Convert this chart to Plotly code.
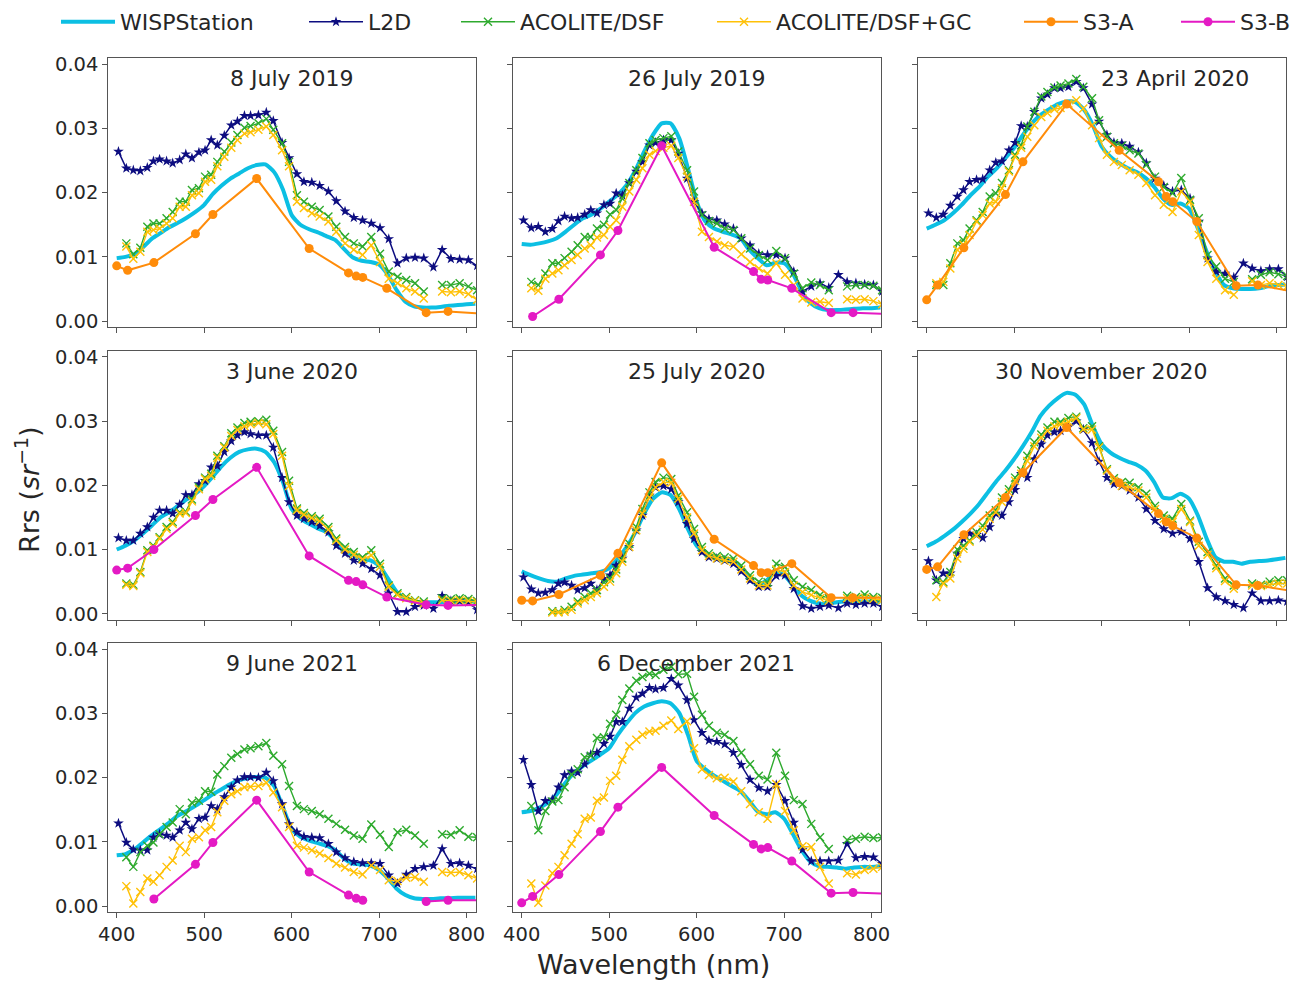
import plotly.graph_objects as go

# ---------------- data ----------------
WL = [402, 411, 419, 427, 435, 442, 449, 457, 464, 472, 479, 486, 494, 501, 508, 515,
      523, 531, 538, 546, 553, 562, 571, 579, 589, 597, 606, 614, 623, 632, 642, 651,
      661, 671, 681, 691, 701, 711, 721, 731, 741, 751, 762, 772, 782, 792, 802, 812]
WISP_WL = list(range(400, 811, 10))
S3_WL = [400, 412.5, 442.5, 490, 510, 560, 620, 665, 673.75, 681.25, 708.75, 753.75, 778.75, 865]

TITLES = ["8 July 2019", "26 July 2019", "23 April 2020", "3 June 2020", "25 July 2020",
          "30 November 2020", "9 June 2021", "6 December 2021"]
SERIES_NAMES = ["WISPStation", "L2D", "ACOLITE/DSF", "ACOLITE/DSF+GC", "S3-A", "S3-B"]
S3_SENSOR = ["S3-A", "S3-B", "S3-A", "S3-B", "S3-A", "S3-A", "S3-B", "S3-B"]
X_TICKS = [400, 500, 600, 700, 800]
Y_TICKS = [0.00, 0.01, 0.02, 0.03, 0.04]

# 8 July 2019
P1_WISP = [0.0098, 0.0100, 0.0104, 0.0115, 0.0128, 0.0137, 0.0146, 0.0153, 0.0161, 0.0170, 0.0181, 0.0198, 0.0211, 0.0222, 0.0230, 0.0238, 0.0243, 0.0244, 0.0232, 0.0205, 0.0165, 0.0150, 0.0143, 0.0138, 0.0132, 0.0126, 0.0112, 0.0099, 0.0094, 0.0092, 0.0088, 0.0072, 0.0048, 0.0030, 0.0023, 0.0021, 0.0021, 0.0022, 0.0024, 0.0025, 0.0026, 0.0027]
P1_L2D = [0.0264, 0.0238, 0.0235, 0.0234, 0.0239, 0.0249, 0.0252, 0.0249, 0.0246, 0.0251, 0.0260, 0.0254, 0.0263, 0.0266, 0.0282, 0.0274, 0.0289, 0.0305, 0.0311, 0.0320, 0.0320, 0.0321, 0.0325, 0.0312, 0.0278, 0.0254, 0.0229, 0.0217, 0.0216, 0.0211, 0.0202, 0.0187, 0.0171, 0.0161, 0.0157, 0.0152, 0.0145, 0.0128, 0.0090, 0.0098, 0.0099, 0.0098, 0.0084, 0.0111, 0.0097, 0.0096, 0.0095, 0.0086]
P1_DSF = [None, 0.0121, 0.0104, 0.0114, 0.0147, 0.0152, 0.0152, 0.0160, 0.0170, 0.0186, 0.0186, 0.0204, 0.0207, 0.0225, 0.0228, 0.0248, 0.0264, 0.0278, 0.0290, 0.0301, 0.0304, 0.0308, 0.0315, 0.0298, 0.0277, 0.0248, 0.0196, 0.0186, 0.0178, 0.0173, 0.0163, 0.0147, 0.0131, 0.0121, 0.0116, 0.0131, 0.0105, 0.0077, 0.0069, 0.0064, 0.0059, 0.0046, None, 0.0056, 0.0056, 0.0059, 0.0054, 0.0048]
P1_GC = [None, 0.0116, 0.0097, 0.0108, 0.0139, 0.0142, 0.0144, 0.0152, 0.0160, 0.0178, 0.0178, 0.0196, 0.0199, 0.0217, 0.0220, 0.0241, 0.0256, 0.0270, 0.0282, 0.0292, 0.0294, 0.0298, 0.0303, 0.0290, 0.0266, 0.0241, 0.0186, 0.0176, 0.0168, 0.0163, 0.0155, 0.0139, 0.0121, 0.0111, 0.0103, 0.0118, 0.0092, 0.0066, 0.0059, 0.0051, 0.0046, 0.0035, None, 0.0046, 0.0045, 0.0046, 0.0042, 0.0033]
P1_S3 = [0.0086, 0.0079, 0.0091, 0.0136, 0.0166, 0.0222, 0.0113, 0.0075, 0.0070, 0.0068, 0.0051, 0.0013, 0.0015, 0.0007]

# 26 July 2019
P2_WISP = [0.0120, 0.0119, 0.0121, 0.0124, 0.0129, 0.0139, 0.0150, 0.0160, 0.0166, 0.0175, 0.0186, 0.0197, 0.0212, 0.0235, 0.0264, 0.0290, 0.0308, 0.0308, 0.0285, 0.0238, 0.0186, 0.0155, 0.0144, 0.0139, 0.0135, 0.0129, 0.0111, 0.0098, 0.0087, 0.0091, 0.0090, 0.0074, 0.0046, 0.0028, 0.0020, 0.0017, 0.0017, 0.0018, 0.0019, 0.0020, 0.0020, 0.0021]
P2_L2D = [0.0157, 0.0145, 0.0147, 0.0139, 0.0144, 0.0156, 0.0163, 0.0160, 0.0161, 0.0166, 0.0173, 0.0168, 0.0181, 0.0183, 0.0199, 0.0196, 0.0215, 0.0233, 0.0248, 0.0274, 0.0278, 0.0282, 0.0282, 0.0261, 0.0222, 0.0186, 0.0168, 0.0159, 0.0157, 0.0151, 0.0144, 0.0129, 0.0118, 0.0105, 0.0103, 0.0103, 0.0098, 0.0077, 0.0046, 0.0054, 0.0059, 0.0052, 0.0072, 0.0061, 0.0059, 0.0057, 0.0056, 0.0046]
P2_DSF = [None, 0.0061, 0.0056, 0.0074, 0.0090, 0.0090, 0.0098, 0.0108, 0.0118, 0.0131, 0.0131, 0.0144, 0.0150, 0.0166, 0.0173, 0.0191, 0.0215, 0.0235, 0.0254, 0.0277, 0.0282, 0.0285, 0.0288, 0.0264, 0.0235, 0.0202, 0.0165, 0.0156, 0.0152, 0.0144, 0.0142, 0.0129, 0.0113, 0.0103, 0.0095, 0.0109, 0.0098, 0.0074, 0.0051, 0.0060, 0.0056, 0.0048, None, 0.0054, 0.0056, 0.0056, 0.0055, 0.0048]
P2_GC = [None, 0.0051, 0.0047, 0.0066, 0.0074, 0.0079, 0.0087, 0.0095, 0.0103, 0.0113, 0.0118, 0.0130, 0.0134, 0.0147, 0.0157, 0.0178, 0.0202, 0.0220, 0.0238, 0.0259, 0.0265, 0.0270, 0.0273, 0.0254, 0.0225, 0.0186, 0.0139, 0.0131, 0.0124, 0.0118, 0.0116, 0.0104, 0.0092, 0.0082, 0.0074, 0.0090, 0.0072, 0.0056, 0.0035, 0.0029, 0.0030, 0.0028, None, 0.0034, 0.0033, 0.0034, 0.0031, 0.0026]
P2_S3 = [None, 0.0007, 0.0034, 0.0103, 0.0141, 0.0273, 0.0115, 0.0077, 0.0065, 0.0064, 0.0051, 0.0013, 0.0013, 0.0009]

# 23 April 2020
P3_WISP = [0.0144, 0.0150, 0.0157, 0.0168, 0.0181, 0.0196, 0.0209, 0.0225, 0.0238, 0.0254, 0.0270, 0.0290, 0.0308, 0.0321, 0.0330, 0.0338, 0.0342, 0.0341, 0.0329, 0.0305, 0.0272, 0.0256, 0.0246, 0.0238, 0.0232, 0.0223, 0.0209, 0.0191, 0.0181, 0.0183, 0.0175, 0.0144, 0.0108, 0.0077, 0.0056, 0.0051, 0.0050, 0.0050, 0.0051, 0.0054, 0.0056, 0.0057]
P3_L2D = [0.0168, 0.0161, 0.0166, 0.0180, 0.0194, 0.0204, 0.0217, 0.0220, 0.0221, 0.0235, 0.0247, 0.0249, 0.0266, 0.0278, 0.0304, 0.0303, 0.0326, 0.0347, 0.0353, 0.0363, 0.0363, 0.0365, 0.0373, 0.0363, 0.0338, 0.0311, 0.0290, 0.0278, 0.0277, 0.0272, 0.0263, 0.0246, 0.0222, 0.0211, 0.0202, 0.0204, 0.0191, 0.0155, 0.0098, 0.0077, 0.0074, 0.0068, 0.0090, 0.0082, 0.0078, 0.0081, 0.0081, 0.0069]
P3_DSF = [None, 0.0056, 0.0056, 0.0090, 0.0121, 0.0126, 0.0144, 0.0157, 0.0170, 0.0194, 0.0199, 0.0215, 0.0235, 0.0259, 0.0274, 0.0303, 0.0326, 0.0350, 0.0357, 0.0364, 0.0367, 0.0370, 0.0377, 0.0365, 0.0347, 0.0313, 0.0287, 0.0277, 0.0273, 0.0266, 0.0261, 0.0243, 0.0225, 0.0209, 0.0199, 0.0223, 0.0189, 0.0160, 0.0103, 0.0085, 0.0066, 0.0061, None, 0.0065, 0.0072, 0.0076, 0.0073, 0.0070]
P3_GC = [None, 0.0059, 0.0061, 0.0082, 0.0111, 0.0119, 0.0134, 0.0155, 0.0165, 0.0183, 0.0186, 0.0207, 0.0233, 0.0256, 0.0270, 0.0287, 0.0305, 0.0318, 0.0324, 0.0330, 0.0332, 0.0339, 0.0344, 0.0331, 0.0305, 0.0285, 0.0259, 0.0248, 0.0243, 0.0235, 0.0228, 0.0215, 0.0196, 0.0181, 0.0170, 0.0202, 0.0186, 0.0134, 0.0092, 0.0066, 0.0048, 0.0041, None, 0.0062, 0.0056, 0.0059, 0.0056, 0.0054]
P3_S3 = [0.0033, 0.0056, 0.0114, 0.0197, 0.0248, 0.0338, 0.0266, 0.0217, 0.0194, 0.0186, 0.0155, 0.0055, 0.0056, 0.0034]

# 3 June 2020
P4_WISP = [0.0100, 0.0106, 0.0114, 0.0125, 0.0137, 0.0150, 0.0158, 0.0168, 0.0178, 0.0187, 0.0199, 0.0214, 0.0230, 0.0243, 0.0252, 0.0256, 0.0257, 0.0252, 0.0236, 0.0205, 0.0163, 0.0148, 0.0140, 0.0133, 0.0127, 0.0114, 0.0100, 0.0091, 0.0086, 0.0083, 0.0075, 0.0055, 0.0034, 0.0024, 0.0019, 0.0018, 0.0018, 0.0018, 0.0018, 0.0018, 0.0019, 0.0019]
P4_L2D = [0.0118, 0.0114, 0.0114, 0.0125, 0.0135, 0.0150, 0.0161, 0.0161, 0.0156, 0.0170, 0.0185, 0.0185, 0.0202, 0.0207, 0.0228, 0.0230, 0.0252, 0.0269, 0.0278, 0.0283, 0.0280, 0.0278, 0.0278, 0.0259, 0.0212, 0.0174, 0.0153, 0.0148, 0.0143, 0.0137, 0.0127, 0.0106, 0.0094, 0.0083, 0.0078, 0.0070, 0.0060, 0.0032, 0.0003, 0.0003, 0.0011, 0.0013, 0.0008, 0.0028, 0.0020, 0.0020, 0.0018, 0.0006]
P4_DSF = [None, 0.0047, 0.0045, 0.0065, 0.0099, 0.0106, 0.0119, 0.0135, 0.0143, 0.0158, 0.0159, 0.0178, 0.0197, 0.0212, 0.0218, 0.0246, 0.0261, 0.0281, 0.0290, 0.0297, 0.0299, 0.0300, 0.0302, 0.0285, 0.0252, 0.0207, 0.0164, 0.0157, 0.0152, 0.0148, 0.0135, 0.0117, 0.0104, 0.0096, 0.0088, 0.0099, 0.0078, 0.0044, 0.0032, 0.0026, 0.0021, 0.0019, None, 0.0024, 0.0023, 0.0024, 0.0023, 0.0020]
P4_GC = [None, 0.0045, 0.0043, 0.0063, 0.0096, 0.0104, 0.0117, 0.0132, 0.0140, 0.0156, 0.0157, 0.0175, 0.0194, 0.0210, 0.0215, 0.0243, 0.0259, 0.0277, 0.0286, 0.0292, 0.0295, 0.0297, 0.0295, 0.0280, 0.0246, 0.0199, 0.0161, 0.0154, 0.0149, 0.0144, 0.0131, 0.0114, 0.0100, 0.0092, 0.0085, 0.0091, 0.0073, 0.0042, 0.0029, 0.0024, 0.0020, 0.0016, None, 0.0021, 0.0020, 0.0021, 0.0020, 0.0018]
P4_S3 = [0.0068, 0.0071, 0.0100, 0.0153, 0.0178, 0.0228, 0.0090, 0.0052, 0.0050, 0.0045, 0.0026, 0.0014, 0.0013, 0.0015]

# 25 July 2020
P5_WISP = [0.0066, 0.0060, 0.0055, 0.0051, 0.0050, 0.0055, 0.0059, 0.0061, 0.0063, 0.0065, 0.0071, 0.0086, 0.0104, 0.0127, 0.0156, 0.0179, 0.0189, 0.0185, 0.0163, 0.0132, 0.0106, 0.0094, 0.0087, 0.0083, 0.0081, 0.0071, 0.0055, 0.0045, 0.0052, 0.0065, 0.0060, 0.0044, 0.0028, 0.0020, 0.0016, 0.0016, 0.0018, 0.0019, 0.0019, 0.0019, 0.0019, 0.0018]
P5_L2D = [0.0057, 0.0038, 0.0032, 0.0033, 0.0037, 0.0047, 0.0049, 0.0044, 0.0037, 0.0040, 0.0047, 0.0037, 0.0054, 0.0060, 0.0075, 0.0086, 0.0104, 0.0130, 0.0153, 0.0184, 0.0197, 0.0199, 0.0194, 0.0174, 0.0140, 0.0117, 0.0096, 0.0088, 0.0086, 0.0083, 0.0078, 0.0066, 0.0052, 0.0042, 0.0042, 0.0059, 0.0060, 0.0039, 0.0012, 0.0008, 0.0011, 0.0013, 0.0009, 0.0016, 0.0014, 0.0016, 0.0016, 0.0011]
P5_DSF = [None, None, None, None, 0.0004, 0.0003, 0.0006, 0.0011, 0.0019, 0.0026, 0.0032, 0.0037, 0.0049, 0.0055, 0.0069, 0.0086, 0.0109, 0.0135, 0.0163, 0.0189, 0.0205, 0.0212, 0.0210, 0.0184, 0.0158, 0.0132, 0.0104, 0.0094, 0.0090, 0.0088, 0.0086, 0.0075, 0.0060, 0.0050, 0.0049, 0.0078, 0.0073, 0.0052, 0.0042, 0.0037, 0.0029, 0.0024, None, 0.0028, 0.0026, 0.0030, 0.0026, 0.0025]
P5_GC = [None, None, None, None, 0.0002, 0.0002, 0.0003, 0.0006, 0.0016, 0.0021, 0.0026, 0.0032, 0.0042, 0.0050, 0.0063, 0.0081, 0.0104, 0.0130, 0.0156, 0.0181, 0.0197, 0.0205, 0.0204, 0.0179, 0.0150, 0.0125, 0.0099, 0.0090, 0.0086, 0.0083, 0.0081, 0.0069, 0.0055, 0.0044, 0.0044, 0.0069, 0.0065, 0.0044, 0.0034, 0.0029, 0.0024, 0.0020, None, 0.0024, 0.0023, 0.0025, 0.0023, 0.0021]
P5_S3 = [0.0021, 0.0020, 0.0030, 0.0060, 0.0094, 0.0235, 0.0116, 0.0075, 0.0064, 0.0064, 0.0078, 0.0025, 0.0025, 0.0025]

# 30 November 2020
P6_WISP = [0.0105, 0.0112, 0.0121, 0.0131, 0.0143, 0.0156, 0.0171, 0.0189, 0.0207, 0.0223, 0.0241, 0.0261, 0.0283, 0.0308, 0.0324, 0.0336, 0.0344, 0.0341, 0.0326, 0.0292, 0.0264, 0.0251, 0.0243, 0.0237, 0.0232, 0.0223, 0.0205, 0.0181, 0.0180, 0.0187, 0.0179, 0.0153, 0.0117, 0.0088, 0.0081, 0.0081, 0.0078, 0.0081, 0.0082, 0.0083, 0.0085, 0.0087]
P6_L2D = [0.0082, 0.0052, 0.0063, 0.0063, 0.0094, 0.0117, 0.0125, 0.0123, 0.0118, 0.0135, 0.0156, 0.0153, 0.0174, 0.0193, 0.0218, 0.0212, 0.0241, 0.0264, 0.0278, 0.0283, 0.0285, 0.0291, 0.0300, 0.0287, 0.0266, 0.0237, 0.0212, 0.0202, 0.0199, 0.0192, 0.0181, 0.0163, 0.0145, 0.0132, 0.0125, 0.0128, 0.0117, 0.0081, 0.0040, 0.0026, 0.0020, 0.0014, 0.0009, 0.0032, 0.0020, 0.0020, 0.0021, 0.0019]
P6_DSF = [None, 0.0052, 0.0049, 0.0065, 0.0100, 0.0106, 0.0114, 0.0127, 0.0137, 0.0153, 0.0161, 0.0181, 0.0194, 0.0212, 0.0223, 0.0246, 0.0267, 0.0279, 0.0290, 0.0299, 0.0299, 0.0305, 0.0307, 0.0289, 0.0292, 0.0261, 0.0225, 0.0211, 0.0205, 0.0204, 0.0197, 0.0187, 0.0168, 0.0153, 0.0148, 0.0171, 0.0145, 0.0112, 0.0096, 0.0075, 0.0055, 0.0044, None, 0.0047, 0.0045, 0.0050, 0.0052, 0.0052]
P6_GC = [None, 0.0026, 0.0047, 0.0055, 0.0086, 0.0101, 0.0112, 0.0122, 0.0131, 0.0148, 0.0158, 0.0174, 0.0189, 0.0207, 0.0218, 0.0238, 0.0261, 0.0274, 0.0285, 0.0292, 0.0295, 0.0299, 0.0305, 0.0287, 0.0287, 0.0259, 0.0223, 0.0207, 0.0199, 0.0197, 0.0192, 0.0181, 0.0163, 0.0148, 0.0143, 0.0163, 0.0143, 0.0106, 0.0092, 0.0071, 0.0051, 0.0039, None, 0.0044, 0.0043, 0.0045, 0.0047, 0.0047]
P6_S3 = [0.0069, 0.0073, 0.0123, 0.0181, 0.0220, 0.0290, 0.0204, 0.0156, 0.0143, 0.0137, 0.0118, 0.0045, 0.0044, 0.0025]

# 9 June 2021
P7_WISP = [0.0079, 0.0081, 0.0088, 0.0099, 0.0110, 0.0120, 0.0130, 0.0141, 0.0148, 0.0156, 0.0165, 0.0174, 0.0182, 0.0190, 0.0196, 0.0200, 0.0201, 0.0200, 0.0187, 0.0154, 0.0120, 0.0108, 0.0102, 0.0098, 0.0094, 0.0087, 0.0074, 0.0066, 0.0065, 0.0063, 0.0056, 0.0043, 0.0027, 0.0017, 0.0012, 0.0011, 0.0011, 0.0012, 0.0012, 0.0013, 0.0013, 0.0013]
P7_L2D = [0.0129, 0.0099, 0.0088, 0.0087, 0.0087, 0.0107, 0.0112, 0.0110, 0.0107, 0.0118, 0.0130, 0.0120, 0.0136, 0.0138, 0.0156, 0.0151, 0.0170, 0.0185, 0.0196, 0.0201, 0.0201, 0.0200, 0.0208, 0.0195, 0.0159, 0.0128, 0.0115, 0.0108, 0.0107, 0.0106, 0.0097, 0.0084, 0.0075, 0.0069, 0.0067, 0.0067, 0.0066, 0.0048, 0.0035, 0.0049, 0.0058, 0.0061, 0.0063, 0.0089, 0.0066, 0.0067, 0.0063, 0.0058]
P7_DSF = [None, 0.0076, 0.0061, 0.0084, 0.0094, 0.0099, 0.0112, 0.0123, 0.0130, 0.0151, 0.0143, 0.0161, 0.0164, 0.0179, 0.0178, 0.0205, 0.0218, 0.0231, 0.0237, 0.0244, 0.0246, 0.0249, 0.0254, 0.0234, 0.0221, 0.0187, 0.0156, 0.0151, 0.0148, 0.0143, 0.0136, 0.0128, 0.0119, 0.0110, 0.0105, 0.0127, 0.0111, 0.0092, 0.0115, 0.0119, 0.0110, 0.0097, None, 0.0112, 0.0111, 0.0118, 0.0108, 0.0107]
P7_GC = [None, 0.0031, 0.0004, 0.0022, 0.0043, 0.0038, 0.0048, 0.0061, 0.0071, 0.0094, 0.0084, 0.0105, 0.0107, 0.0118, 0.0123, 0.0146, 0.0164, 0.0174, 0.0179, 0.0185, 0.0186, 0.0187, 0.0192, 0.0177, 0.0154, 0.0123, 0.0094, 0.0091, 0.0087, 0.0082, 0.0075, 0.0066, 0.0060, 0.0053, 0.0049, 0.0063, 0.0056, 0.0040, 0.0039, 0.0044, 0.0045, 0.0038, None, 0.0053, 0.0052, 0.0053, 0.0048, 0.0043]
P7_S3 = [None, None, 0.0011, 0.0065, 0.0099, 0.0165, 0.0053, 0.0017, 0.0012, 0.0009, None, 0.0007, 0.0009, 0.0009]

# 6 December 2021
P8_WISP = [0.0146, 0.0148, 0.0153, 0.0161, 0.0174, 0.0192, 0.0208, 0.0218, 0.0227, 0.0236, 0.0246, 0.0267, 0.0285, 0.0301, 0.0311, 0.0316, 0.0319, 0.0316, 0.0301, 0.0267, 0.0226, 0.0213, 0.0203, 0.0195, 0.0187, 0.0179, 0.0164, 0.0147, 0.0143, 0.0146, 0.0136, 0.0112, 0.0087, 0.0069, 0.0062, 0.0061, 0.0060, 0.0058, 0.0060, 0.0061, 0.0061, 0.0062]
P8_L2D = [0.0228, 0.0189, 0.0148, 0.0164, 0.0166, 0.0185, 0.0204, 0.0210, 0.0208, 0.0221, 0.0236, 0.0239, 0.0253, 0.0264, 0.0287, 0.0287, 0.0308, 0.0325, 0.0331, 0.0340, 0.0338, 0.0340, 0.0354, 0.0344, 0.0321, 0.0290, 0.0270, 0.0258, 0.0256, 0.0252, 0.0239, 0.0220, 0.0197, 0.0184, 0.0179, 0.0189, 0.0164, 0.0130, 0.0088, 0.0070, 0.0070, 0.0070, 0.0071, 0.0097, 0.0075, 0.0077, 0.0076, 0.0066]
P8_DSF = [None, 0.0156, 0.0118, 0.0148, 0.0163, 0.0165, 0.0185, 0.0205, 0.0213, 0.0232, 0.0234, 0.0262, 0.0263, 0.0284, 0.0298, 0.0321, 0.0339, 0.0351, 0.0357, 0.0362, 0.0360, 0.0368, 0.0373, 0.0361, 0.0362, 0.0326, 0.0298, 0.0281, 0.0270, 0.0267, 0.0257, 0.0239, 0.0221, 0.0203, 0.0197, 0.0239, 0.0203, 0.0165, 0.0159, 0.0128, 0.0107, 0.0089, None, 0.0103, 0.0105, 0.0108, 0.0106, 0.0107]
P8_GC = [None, 0.0035, 0.0005, 0.0032, 0.0051, 0.0061, 0.0079, 0.0097, 0.0112, 0.0136, 0.0138, 0.0164, 0.0169, 0.0195, 0.0203, 0.0228, 0.0249, 0.0259, 0.0267, 0.0272, 0.0273, 0.0281, 0.0289, 0.0276, 0.0288, 0.0246, 0.0213, 0.0204, 0.0199, 0.0200, 0.0194, 0.0179, 0.0159, 0.0146, 0.0136, 0.0190, 0.0148, 0.0118, 0.0093, 0.0092, 0.0061, 0.0035, None, 0.0051, 0.0049, 0.0056, 0.0058, 0.0061]
P8_S3 = [0.0005, 0.0015, 0.0049, 0.0116, 0.0154, 0.0216, 0.0141, 0.0096, 0.0089, 0.0091, 0.0070, 0.0020, 0.0021, 0.0017]

# ---------------- styling ----------------
OFF = 8                      # the page body adds an 8px margin around the figure
W, H = 1307 - OFF, 981 - OFF
FONT = "DejaVu Sans"
TXT = "#262626"
C_WISP = "#0cbfe3"
C_L2D = "#0d0d80"
C_DSF = "#2eaa2e"
C_GC = "#ffc107"
C_S3 = {"S3-A": "#ff8c0a", "S3-B": "#e41ac4"}

# target screen positions (px)
COL_PX = [(108.3, 476.0), (513.3, 881.0), (918.3, 1286.0)]
ROW_PX = [(57.9, 326.8), (350.5, 619.5), (642.9, 911.8)]
X_RANGE = [390.4, 810.7]
Y_RANGE = [-0.0009, 0.0410]


def px_x(px):
    return (px - OFF) / W


def px_y(py):
    return 1 - (py - OFF) / H


PANELS = [
    (P1_WISP, P1_L2D, P1_DSF, P1_GC, P1_S3),
    (P2_WISP, P2_L2D, P2_DSF, P2_GC, P2_S3),
    (P3_WISP, P3_L2D, P3_DSF, P3_GC, P3_S3),
    (P4_WISP, P4_L2D, P4_DSF, P4_GC, P4_S3),
    (P5_WISP, P5_L2D, P5_DSF, P5_GC, P5_S3),
    (P6_WISP, P6_L2D, P6_DSF, P6_GC, P6_S3),
    (P7_WISP, P7_L2D, P7_DSF, P7_GC, P7_S3),
    (P8_WISP, P8_L2D, P8_DSF, P8_GC, P8_S3),
]
TITLE_X_PX = [292, 697, 1175, 292, 697, 1101, 292, 696]

fig = go.Figure()
legend_used = set()


def leg(name):
    idx = SERIES_NAMES.index(name)
    key = "legend" if idx == 0 else "legend%d" % (idx + 1)
    show = name not in legend_used
    legend_used.add(name)
    return dict(name=name, legend=key, showlegend=show, legendgroup=name)


for k, (wisp, l2d, dsf, gc, s3) in enumerate(PANELS):
    ax = "" if k == 0 else str(k + 1)
    xa, ya = "x" + ax, "y" + ax
    fig.add_trace(go.Scatter(x=WISP_WL, y=wisp, mode="lines", xaxis=xa, yaxis=ya,
                             line=dict(color=C_WISP, width=4, shape="spline", smoothing=0.6),
                             **leg("WISPStation")))
    fig.add_trace(go.Scatter(x=WL, y=l2d, mode="lines+markers", xaxis=xa, yaxis=ya,
                             line=dict(color=C_L2D, width=1.5),
                             marker=dict(symbol="star", size=8, color=C_L2D, line=dict(width=0)),
                             **leg("L2D")))
    fig.add_trace(go.Scatter(x=WL, y=dsf, mode="lines+markers", xaxis=xa, yaxis=ya,
                             line=dict(color=C_DSF, width=1.4),
                             marker=dict(symbol="x-thin", size=8, color=C_DSF,
                                         line=dict(width=1.4, color=C_DSF)),
                             **leg("ACOLITE/DSF")))
    fig.add_trace(go.Scatter(x=WL, y=gc, mode="lines+markers", xaxis=xa, yaxis=ya,
                             line=dict(color=C_GC, width=1.4),
                             marker=dict(symbol="x-thin", size=8, color=C_GC,
                                         line=dict(width=1.4, color=C_GC)),
                             **leg("ACOLITE/DSF+GC")))
    sensor = S3_SENSOR[k]
    fig.add_trace(go.Scatter(x=S3_WL, y=s3, mode="lines+markers", xaxis=xa, yaxis=ya,
                             line=dict(color=C_S3[sensor], width=2),
                             marker=dict(symbol="circle", size=9, color=C_S3[sensor]),
                             **leg(sensor)))

layout = dict(
    width=W, height=H,
    margin=dict(l=0, r=0, t=0, b=0, autoexpand=False),
    paper_bgcolor="white", plot_bgcolor="white",
    font=dict(family=FONT, color=TXT),
)

annotations = []
for k in range(8):
    r, c = divmod(k, 3)
    ax = "" if k == 0 else str(k + 1)
    x0, x1 = COL_PX[c]
    y0, y1 = ROW_PX[r]
    common = dict(showgrid=False, zeroline=False, showline=True, mirror=True,
                  linecolor="#555555", linewidth=1, ticks="outside", ticklen=5,
                  tickwidth=1, tickcolor="#555555", automargin=False,
                  tickfont=dict(family=FONT, size=19.5, color=TXT))
    layout["xaxis" + ax] = dict(common, domain=[px_x(x0), px_x(x1)], anchor="y" + ax,
                                range=X_RANGE, tickvals=X_TICKS,
                                showticklabels=(r == 2))
    layout["yaxis" + ax] = dict(common, domain=[px_y(y1), px_y(y0)], anchor="x" + ax,
                                range=Y_RANGE, tickvals=Y_TICKS, tickformat=".2f",
                                showticklabels=(c == 0))
    annotations.append(dict(text=TITLES[k], x=px_x(TITLE_X_PX[k]), y=px_y(y0 + 21),
                            xref="paper", yref="paper", showarrow=False,
                            xanchor="center", yanchor="middle",
                            font=dict(family=FONT, size=22, color=TXT)))

annotations.append(dict(text="Wavelength (nm)", x=px_x(653), y=px_y(964), xref="paper",
                        yref="paper", showarrow=False, xanchor="center", yanchor="middle",
                        font=dict(family=FONT, size=27, color=TXT)))
annotations.append(dict(text="Rrs (<i>sr</i><sup>−1</sup>)", x=px_x(28), y=px_y(490),
                        xref="paper", yref="paper", showarrow=False, textangle=-90,
                        xanchor="center", yanchor="middle",
                        font=dict(family=FONT, size=27, color=TXT)))
layout["annotations"] = annotations

LEG_START_PX = [62, 310, 462, 718, 1025, 1182]
for i, px in enumerate(LEG_START_PX):
    key = "legend" if i == 0 else "legend%d" % (i + 1)
    layout[key] = dict(x=px_x(px - 6), y=px_y(22), xanchor="left", yanchor="middle",
                       orientation="h", bgcolor="rgba(0,0,0,0)", borderwidth=0,
                       itemwidth=54, font=dict(family=FONT, size=22, color=TXT))

fig.update_layout(**layout)
fig.write_html("out.html")
